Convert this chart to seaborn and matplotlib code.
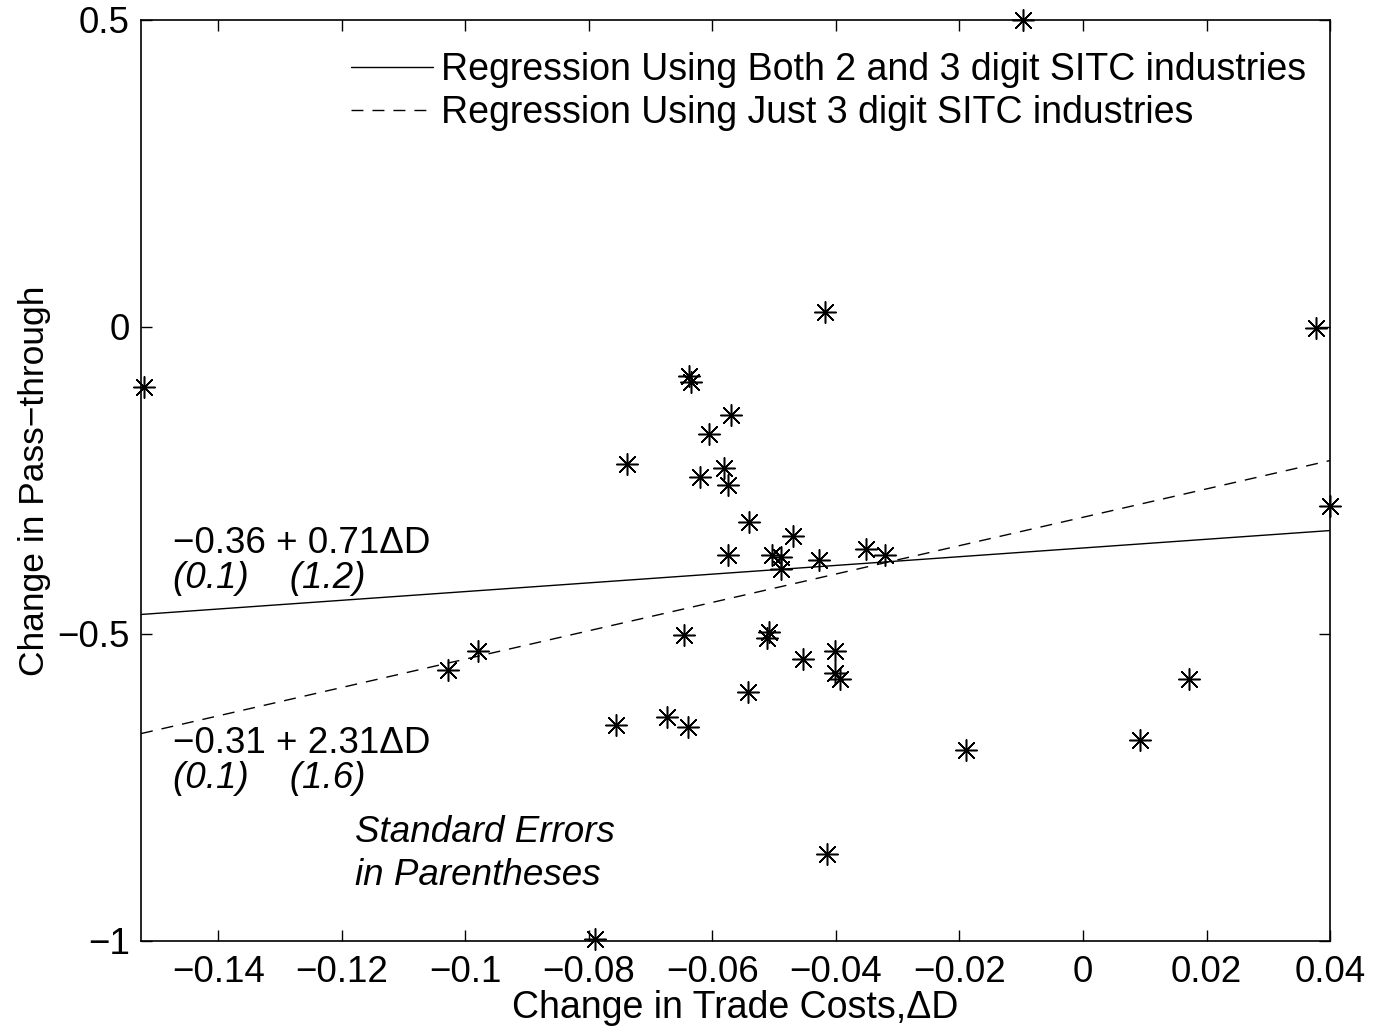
import numpy as np
import pandas as pd
import matplotlib
matplotlib.use('Agg')
import matplotlib.pyplot as plt
import seaborn as sns

# --- dados ---
delta_d = [-0.0097, -0.1521, -0.0417, 0.0377, 0.0400, -0.0638, -0.0634, -0.0570,
           -0.0605, -0.0738, -0.0581, -0.0620, -0.0575, -0.0540, -0.0469, -0.0575,
           -0.0503, -0.0489, -0.0427, -0.0351, -0.0320, -0.0489, -0.1028, -0.0979,
           -0.0646, -0.0508, -0.0511, -0.0453, -0.0401, -0.0401, -0.0393, -0.0542,
           0.0172, -0.0756, -0.0673, -0.0639, 0.0092, -0.0189, -0.0414, -0.0790]
delta_pt = [0.500, -0.098, 0.024, -0.001, -0.291, -0.080, -0.090, -0.143,
            -0.174, -0.223, -0.229, -0.244, -0.258, -0.317, -0.341, -0.371,
            -0.372, -0.375, -0.380, -0.361, -0.372, -0.395, -0.559, -0.528,
            -0.501, -0.497, -0.506, -0.540, -0.528, -0.564, -0.574, -0.595,
            -0.574, -0.648, -0.635, -0.652, -0.673, -0.689, -0.859, -0.997]

# coeficientes das regressões (intercepto, inclinação)
reg_labels = ['Regression Using Both 2 and 3 digit SITC industries',
              'Regression Using Just 3 digit SITC industries']
reg_coefs = [(-0.36, 0.71), (-0.31, 2.31)]
reg_styles = ['-', (0, (8.6, 6.5))]

x_ticks = [-0.14, -0.12, -0.1, -0.08, -0.06, -0.04, -0.02, 0, 0.02, 0.04]
x_ticklabels = ['\u22120.14', '\u22120.12', '\u22120.1', '\u22120.08', '\u22120.06',
                '\u22120.04', '\u22120.02', '0', '0.02', '0.04']
y_ticks = [-1, -0.5, 0, 0.5]
y_ticklabels = ['\u22121', '\u22120.5', '0', '0.5']

xlim = (-0.1525, 0.0400)
fs = 26.5

sns.set_style('white')
plt.rcParams['font.family'] = ['Liberation Sans', 'DejaVu Sans']
plt.rcParams['text.color'] = 'black'
plt.rcParams['axes.labelcolor'] = 'black'
plt.rcParams['xtick.color'] = 'black'
plt.rcParams['ytick.color'] = 'black'

fig = plt.figure(figsize=(13.83, 10.34), dpi=100)
ax = fig.add_axes([0.102, 0.09, 0.8597, 0.8907])

df = pd.DataFrame({'dD': delta_d, 'dPT': delta_pt})

# linhas de regressão
xs_line = np.array(xlim)
for lab, (a, b), ls in zip(reg_labels, reg_coefs, reg_styles):
    line_df = pd.DataFrame({'x': xs_line, 'y': a + b * xs_line})
    sns.lineplot(data=line_df, x='x', y='y', color='black', linewidth=1.0,
                 linestyle=ls, label=lab, ax=ax)

sns.scatterplot(data=df, x='dD', y='dPT', marker=(8, 2, 0), s=240, color='black',
                linewidth=1.1, ax=ax, clip_on=False, zorder=3)

ax.set_xlim(*xlim)
ax.set_ylim(-1, 0.5)
ax.set_xticks(x_ticks)
ax.set_xticklabels(x_ticklabels)
ax.set_yticks(y_ticks)
ax.set_yticklabels(y_ticklabels)
ax.tick_params(direction='in', length=8, width=1, labelsize=fs, top=True, right=True,
               bottom=True, left=True)
ax.tick_params(axis='x', pad=10)
ax.tick_params(axis='y', pad=8)
for sp in ax.spines.values():
    sp.set_color('black')
    sp.set_linewidth(1.2)

ax.set_xlabel('Change in Trade Costs,\u0394D', fontsize=27, labelpad=0)
ax.set_ylabel('Change in Pass\u2212through', fontsize=25.5, labelpad=5)

leg = ax.legend(loc='upper right', bbox_to_anchor=(1.0067, 1.0), frameon=False,
                fontsize=27, handlelength=2.17, handletextpad=0.22,
                borderaxespad=0.45, labelspacing=0.2)

# anotações
ax.text(-0.1473, -0.353, '\u22120.36 + 0.71\u0394D', fontsize=fs, va='center')
ax.text(-0.1473, -0.410, '(0.1)    (1.2)', fontsize=fs, va='center', style='italic')
ax.text(-0.1473, -0.678, '\u22120.31 + 2.31\u0394D', fontsize=fs, va='center')
ax.text(-0.1473, -0.735, '(0.1)    (1.6)', fontsize=fs, va='center', style='italic')
ax.text(-0.1178, -0.824, 'Standard Errors', fontsize=fs, va='center', style='italic')
ax.text(-0.1178, -0.894, 'in Parentheses', fontsize=fs, va='center', style='italic')

plt.savefig('out.png', dpi=100)
